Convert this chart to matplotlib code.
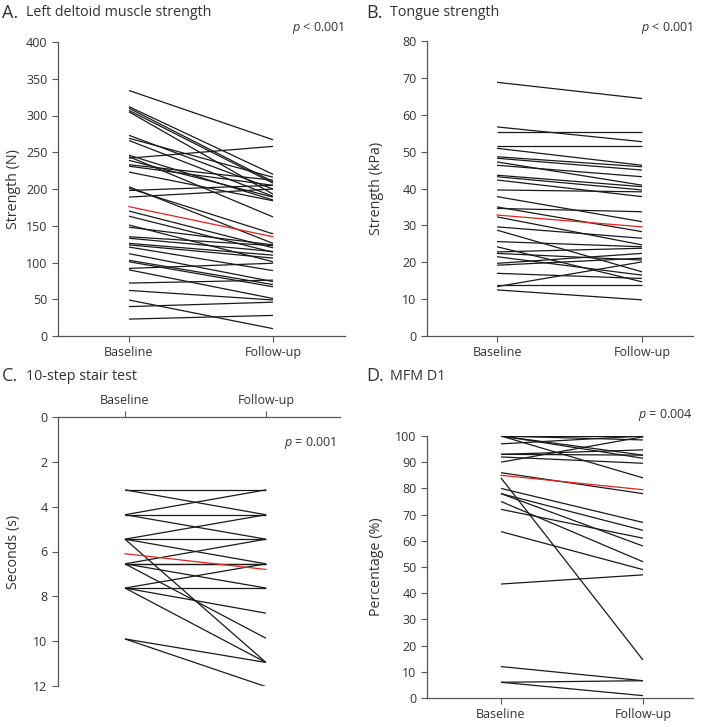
import matplotlib
matplotlib.use("Agg")
import matplotlib.pyplot as plt

plt.rcParams['font.family'] = ['Open Sans', 'DejaVu Sans']
plt.rcParams['mathtext.fontset'] = 'custom'
plt.rcParams['mathtext.it'] = 'Open Sans:italic'
plt.rcParams['mathtext.rm'] = 'Open Sans'

TXT = '#333333'
SPINE = '#555555'

conditions = ["Baseline", "Follow-up"]

# Panel A: Left deltoid muscle strength (N)
a_base = [334, 312, 310, 307, 305, 273, 269, 266, 246, 244, 242, 239, 233, 231,
          223, 203, 201, 198, 189, 170, 163, 151, 148, 135, 133, 126, 124, 121,
          112, 103, 101, 92, 90, 72, 62, 49, 40, 23]
a_follow = [267, 220, 210, 208, 193, 200, 216, 190, 185, 162, 258, 189, 212, 205,
            184, 126, 139, 205, 200, 120, 114, 101, 124, 123, 115, 110, 106, 89,
            74, 70, 67, 99, 51, 76, 49, 10, 46, 28]
a_mean = [176, 135]

# Panel B: Tongue strength (kPa)
b_base = [68.8, 56.7, 55.4, 51.6, 50.9, 48.6, 48.2, 47.2, 46.3, 43.6, 43.2, 42.3,
          39.6, 37.8, 35.0, 34.6, 32.3, 29.6, 28.7, 25.6, 24.2, 22.8, 22.4, 21.5,
          19.7, 19.2, 17.0, 13.8, 13.4, 12.5]
b_follow = [64.4, 52.7, 55.4, 51.6, 46.3, 45.9, 45.0, 40.9, 43.2, 40.5, 39.6, 37.8,
            39.1, 31.0, 28.3, 33.7, 24.7, 26.5, 17.4, 24.2, 14.7, 23.8, 20.6, 16.5,
            22.4, 21.1, 15.6, 13.8, 20.1, 9.8]
b_mean = [32.8, 29.6]

# Panel C: 10-step stair test (s)
c_base = [3.25, 3.25, 4.36, 4.36, 4.36, 5.45, 5.45, 5.45, 5.45, 6.55, 6.55, 6.55,
          6.55, 6.55, 7.63, 7.63, 7.63, 7.63, 9.9, 9.9]
c_follow = [3.25, 4.36, 3.25, 4.36, 5.45, 4.36, 5.45, 6.55, 10.95, 5.45, 6.55, 6.55,
            7.63, 9.87, 6.55, 7.63, 8.75, 10.95, 10.95, 12.03]
c_mean = [6.1, 6.8]

# Panel D: MFM D1 (%)
d_base = [100, 100, 100, 100, 100, 97, 93, 93, 92, 90, 86, 84, 80, 78, 78, 75, 72,
          63.5, 43.5, 12, 6, 6]
d_follow = [100, 92.7, 91.5, 98.5, 84, 100, 94.7, 92.7, 89.6, 99.7, 78, 14.5, 67,
            64, 58, 52, 61, 49, 47, 6.6, 6.6, 0.9]
d_mean = [85, 79.5]

W, H = 715, 727
fig = plt.figure(figsize=(W / 100, H / 100), dpi=100)


def make_ax(left, top, right, bottom):
    return fig.add_axes([left / W, 1 - bottom / H, (right - left) / W, (bottom - top) / H])


def draw_lines(ax, base, follow, mean):
    for b, f in zip(base, follow):
        ax.plot([0, 1], [b, f], color='#1a1a1a', lw=0.9, solid_capstyle='butt')
    ax.plot([0, 1], mean, color='#e8201e', lw=0.9, zorder=5)


def style(ax, top_axis=False):
    ax.spines['right'].set_visible(False)
    if top_axis:
        ax.spines['bottom'].set_visible(False)
        ax.xaxis.tick_top()
    else:
        ax.spines['top'].set_visible(False)
    for s in ['left', 'top', 'bottom']:
        ax.spines[s].set_color(SPINE)
        ax.spines[s].set_linewidth(0.9)
    ax.tick_params(colors=SPINE, labelcolor=TXT, labelsize=9, length=4, width=0.8)
    ax.set_xticks([0, 1])
    ax.set_xticklabels(conditions)
    ax.patch.set_alpha(0)


def title(x, y, letter, text):
    fig.text(x / W, 1 - y / H, letter, fontsize=13, color=TXT, va='center', ha='left')
    fig.text((x + 24) / W, 1 - y / H, text, fontsize=10.3, color=TXT, va='center', ha='left')


def ptext(x, y, op, val):
    fig.text(x / W, 1 - y / H, r'$\it{p}$' + f' {op} {val}', fontsize=9, color=TXT,
             va='center', ha='right')


# A
axA = make_ax(58, 42, 345, 336)
draw_lines(axA, a_base, a_follow, a_mean)
axA.set_ylim(0, 400)
axA.set_yticks(range(0, 401, 50))
axA.set_xlim(-0.493, 1.5)
style(axA)
axA.set_ylabel('Strength (N)', fontsize=10.3, color=TXT)
axA.yaxis.set_label_coords(-0.129, 0.5)
title(2, 13, 'A.', 'Left deltoid muscle strength')
ptext(344, 28, '<', '0.001')

# B
axB = make_ax(427, 41, 693, 336)
draw_lines(axB, b_base, b_follow, b_mean)
axB.set_ylim(0, 80)
axB.set_yticks(range(0, 81, 10))
axB.set_xlim(-0.483, 1.352)
style(axB)
axB.set_ylabel('Strength (kPa)', fontsize=10.3, color=TXT)
axB.yaxis.set_label_coords(-0.162, 0.5)
title(366, 13, 'B.', 'Tongue strength')
ptext(693, 28, '<', '0.001')

# C
axC = make_ax(58, 417, 340, 686)
draw_lines(axC, c_base, c_follow, c_mean)
axC.set_ylim(12, 0)
axC.set_yticks(range(0, 13, 2))
axC.set_xlim(-0.475, 1.525)
style(axC, top_axis=True)
axC.set_ylabel('Seconds (s)', fontsize=10.3, color=TXT)
axC.yaxis.set_label_coords(-0.131, 0.5)
title(2, 376, 'C.', '10-step stair test')
ptext(336, 443, '=', '0.001')

# D
axD = make_ax(427, 436, 693, 698)
draw_lines(axD, d_base, d_follow, d_mean)
axD.set_ylim(0, 100)
axD.set_yticks(range(0, 101, 10))
axD.set_xlim(-0.521, 1.352)
style(axD)
axD.set_ylabel('Percentage (%)', fontsize=10.3, color=TXT)
axD.yaxis.set_label_coords(-0.162, 0.5)
title(366, 376, 'D.', 'MFM D1')
ptext(693, 415, '=', '0.004')

fig.savefig('out.png', dpi=100)
